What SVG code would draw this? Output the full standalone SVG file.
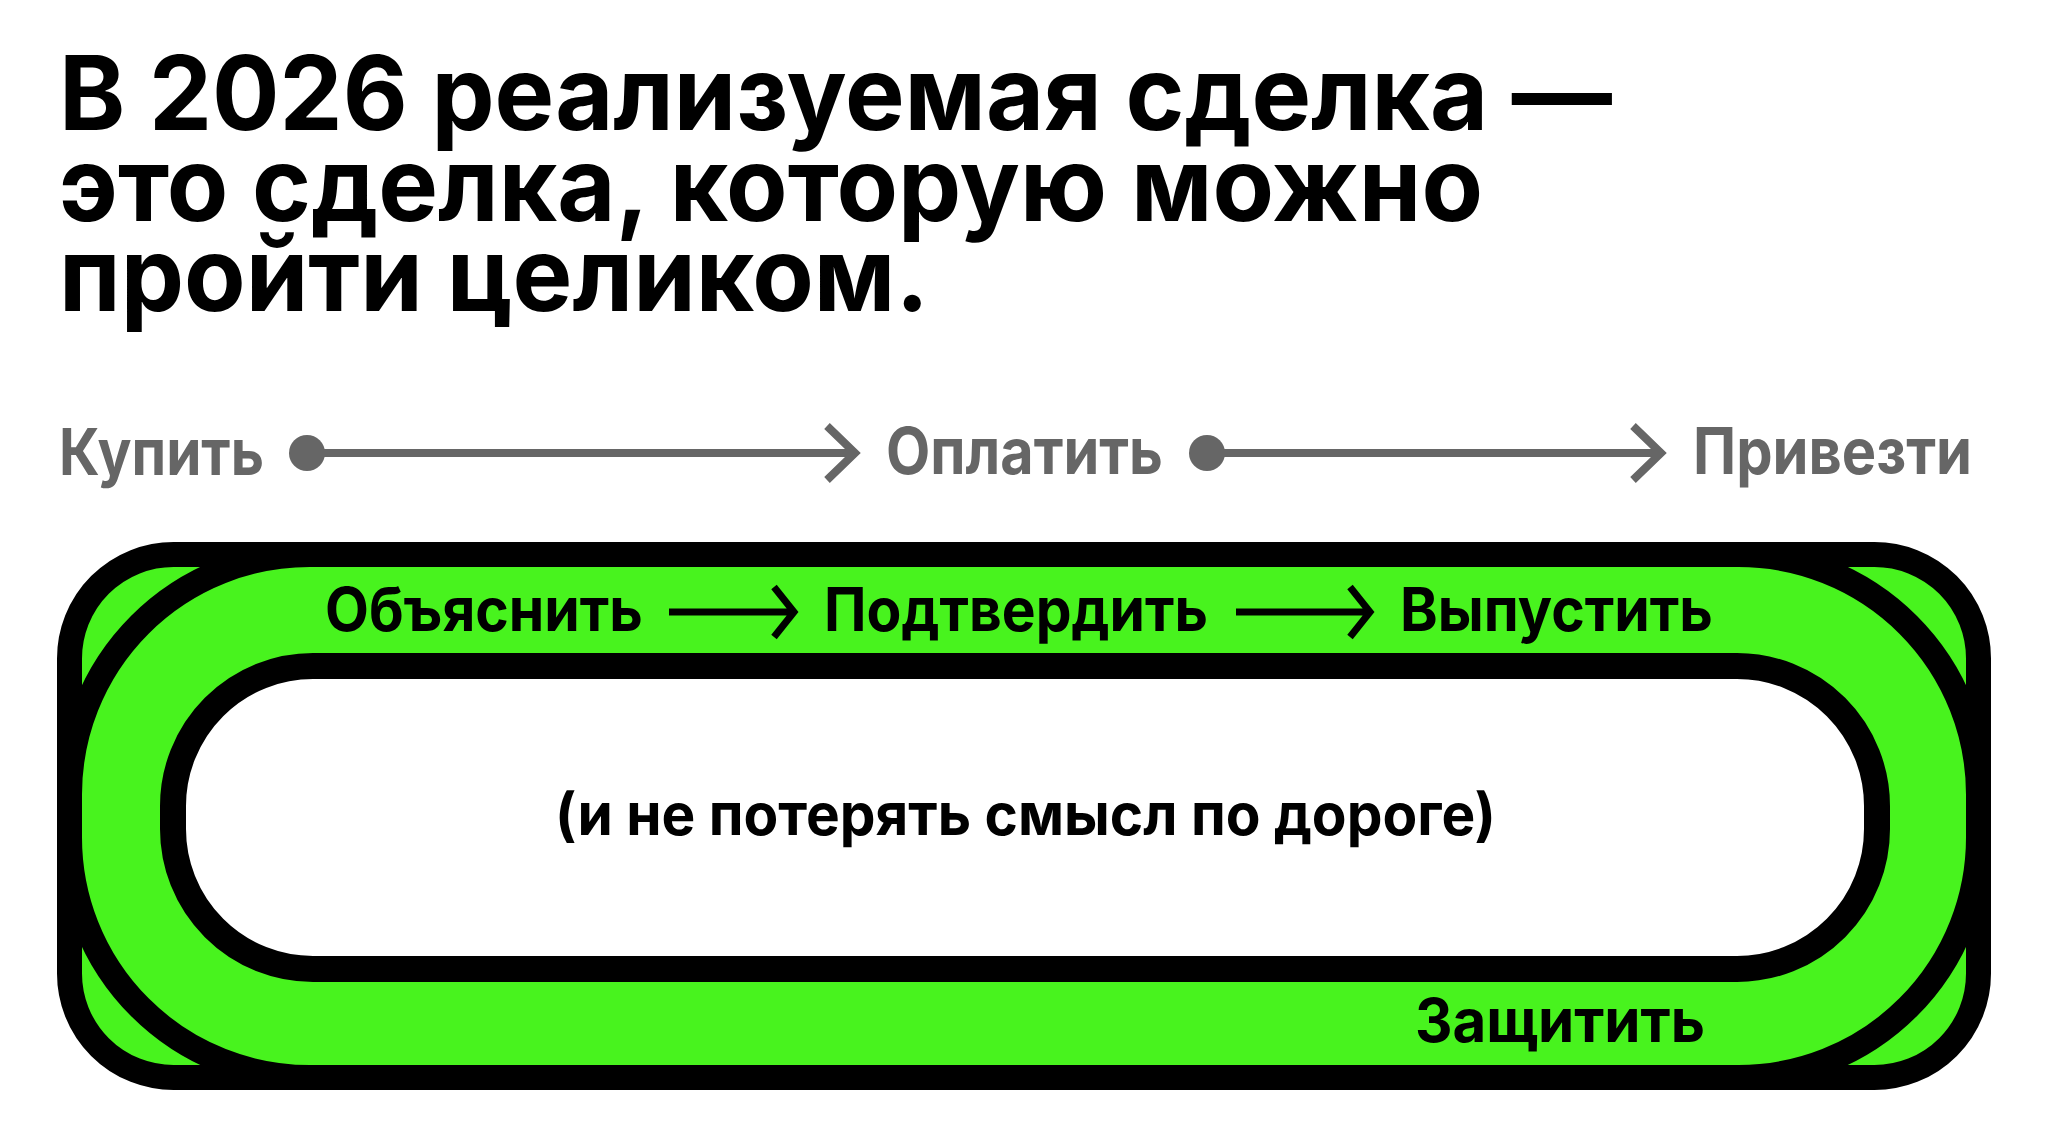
<svg xmlns="http://www.w3.org/2000/svg" width="2048" height="1143" viewBox="0 0 2048 1143">
  <style>
    .t { font-family: Inter, "Liberation Sans", Arial, sans-serif; font-weight: 700; }
    .title { font-size: 103px; fill: #000; }
    .flow { font-size: 64px; fill: #666; }
    .lane { font-size: 60px; fill: #000; }
    .mid { font-size: 58px; fill: #000; }
    .gconn { stroke: #666; stroke-width: 8; fill: none; }
    .bconn { stroke: #000; stroke-width: 7; fill: none; }
  </style>
  <rect width="2048" height="1143" fill="#fff"/>

  <g id="title">
    <text class="t title" x="59" y="130" textLength="1553" lengthAdjust="spacingAndGlyphs">В 2026 реализуемая сделка —</text>
    <text class="t title" x="59" y="221" textLength="1424" lengthAdjust="spacingAndGlyphs">это сделка, которую можно</text>
    <text class="t title" x="59" y="311" textLength="870" lengthAdjust="spacingAndGlyphs">пройти целиком.</text>
  </g>

  <g id="track">
    <rect x="69.5" y="554.5" width="1909" height="523" rx="104" fill="#48F31E" stroke="#000" stroke-width="25"/>
    <rect x="69.5" y="554.5" width="1909" height="523" rx="240" fill="none" stroke="#000" stroke-width="25"/>
  </g>

  <g id="core">
    <rect x="173" y="666" width="1704" height="303" rx="140" fill="#fff" stroke="#000" stroke-width="26"/>
    <text class="t mid" x="555" y="835" textLength="941" lengthAdjust="spacingAndGlyphs">(и не потерять смысл по дороге)</text>
  </g>

  <g id="node-kupit"><text class="t flow" x="59" y="475" textLength="205" lengthAdjust="spacingAndGlyphs">Купить</text></g>
  <g id="node-oplatit"><text class="t flow" x="886" y="474" textLength="277" lengthAdjust="spacingAndGlyphs">Оплатить</text></g>
  <g id="node-privezti"><text class="t flow" x="1693" y="474" textLength="279" lengthAdjust="spacingAndGlyphs">Привезти</text></g>

  <g id="node-obyasnit"><text class="t lane" x="325" y="631" textLength="318" lengthAdjust="spacingAndGlyphs">Объяснить</text></g>
  <g id="node-podtverdit"><text class="t lane" x="824" y="631" textLength="384" lengthAdjust="spacingAndGlyphs">Подтвердить</text></g>
  <g id="node-vypustit"><text class="t lane" x="1400" y="631" textLength="313" lengthAdjust="spacingAndGlyphs">Выпустить</text></g>
  <g id="node-zashchitit"><text class="t lane" x="1415" y="1042" textLength="290" lengthAdjust="spacingAndGlyphs">Защитить</text></g>

  <g id="connectors">
    <circle cx="307" cy="453" r="18" fill="#666"/>
    <path class="gconn" d="M307 453 H853 M827 426 L855 453 L827 480"/>
    <circle cx="1207" cy="453" r="18" fill="#666"/>
    <path class="gconn" d="M1207 453 H1659 M1633 426 L1661 453 L1633 480"/>
    <path class="bconn" d="M669 612 H792 M774 587 L794 612 L774 637"/>
    <path class="bconn" d="M1236 612 H1368 M1350 587 L1370 612 L1350 637"/>
  </g>
</svg>
